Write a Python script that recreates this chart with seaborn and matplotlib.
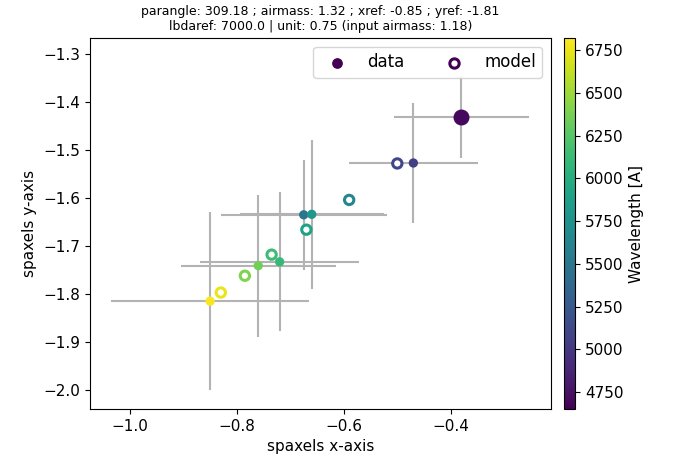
import numpy as np
import matplotlib
matplotlib.use("Agg")
import matplotlib.pyplot as plt
from matplotlib.ticker import MultipleLocator
import seaborn as sns

sns.set_style("ticks", {"axes.edgecolor": "black", "text.color": "black",
                        "axes.labelcolor": "black", "xtick.color": "black",
                        "ytick.color": "black"})
plt.rcParams['font.family'] = ['DejaVu Sans']

lbda = [4700, 5050, 5500, 5800, 6100, 6350, 6800]
x_data = [-0.38, -0.47, -0.675, -0.66, -0.72, -0.76, -0.85]
y_data = [-1.432, -1.527, -1.635, -1.634, -1.733, -1.741, -1.815]
x_err = [0.126, 0.12, 0.155, 0.135, 0.148, 0.145, 0.185]
y_err = [0.085, 0.125, 0.115, 0.155, 0.145, 0.148, 0.185]

lbda_model = [4700, 5100, 5650, 5900, 6150, 6400, 6750]
x_model = [-0.38, -0.50, -0.59, -0.67, -0.735, -0.785, -0.83]
y_model = [-1.432, -1.528, -1.604, -1.666, -1.718, -1.762, -1.797]

vmin, vmax = 4650, 6820
cmap = plt.get_cmap("viridis")
norm = plt.Normalize(vmin, vmax)

fig = plt.figure(figsize=(6.75, 4.66), dpi=100)
ax = fig.add_axes([0.133, 0.122, 0.683, 0.796])
cax = fig.add_axes([0.836, 0.122, 0.016, 0.796])

ax.errorbar(x_data, y_data, xerr=x_err, yerr=y_err, fmt="none",
            ecolor="0.7", elinewidth=1.5, zorder=1)
ax.scatter(x_model, y_model, facecolor="white",
           edgecolor=cmap(norm(np.array(lbda_model))), s=45, linewidth=2.2,
           zorder=3)
sns.scatterplot(x=x_data[1:], y=y_data[1:], hue=lbda[1:], palette="viridis",
                hue_norm=norm, s=45, edgecolor="none", legend=False,
                zorder=4, ax=ax)
ax.scatter(x_data[:1], y_data[:1], color=cmap(norm(lbda[0])), s=110, zorder=5)

h1 = ax.scatter([], [], color=cmap(0.0), s=45, label="data")
h2 = ax.scatter([], [], facecolor="white", edgecolor=cmap(0.0), s=45,
                linewidth=2.2, label="model")
ax.legend(handles=[h1, h2], loc="upper right", ncol=2, fontsize=12)

sm = plt.cm.ScalarMappable(norm=norm, cmap=cmap)
cb = fig.colorbar(sm, cax=cax)
cb.set_label("Wavelength [A]", fontsize=11)
cb.ax.tick_params(labelsize=11)

ax.set_xlim(-1.075, -0.213)
ax.set_ylim(-2.04, -1.267)
ax.xaxis.set_major_locator(MultipleLocator(0.2))
ax.set_xlabel("spaxels x-axis", fontsize=11)
ax.set_ylabel("spaxels y-axis", fontsize=11)
ax.tick_params(labelsize=11)
ax.set_title("parangle: 309.18 ; airmass: 1.32 ; xref: -0.85 ; yref: -1.81\n"
             "lbdaref: 7000.0 | unit: 0.75 (input airmass: 1.18)", fontsize=9)
plt.savefig("out.png", dpi=100)
